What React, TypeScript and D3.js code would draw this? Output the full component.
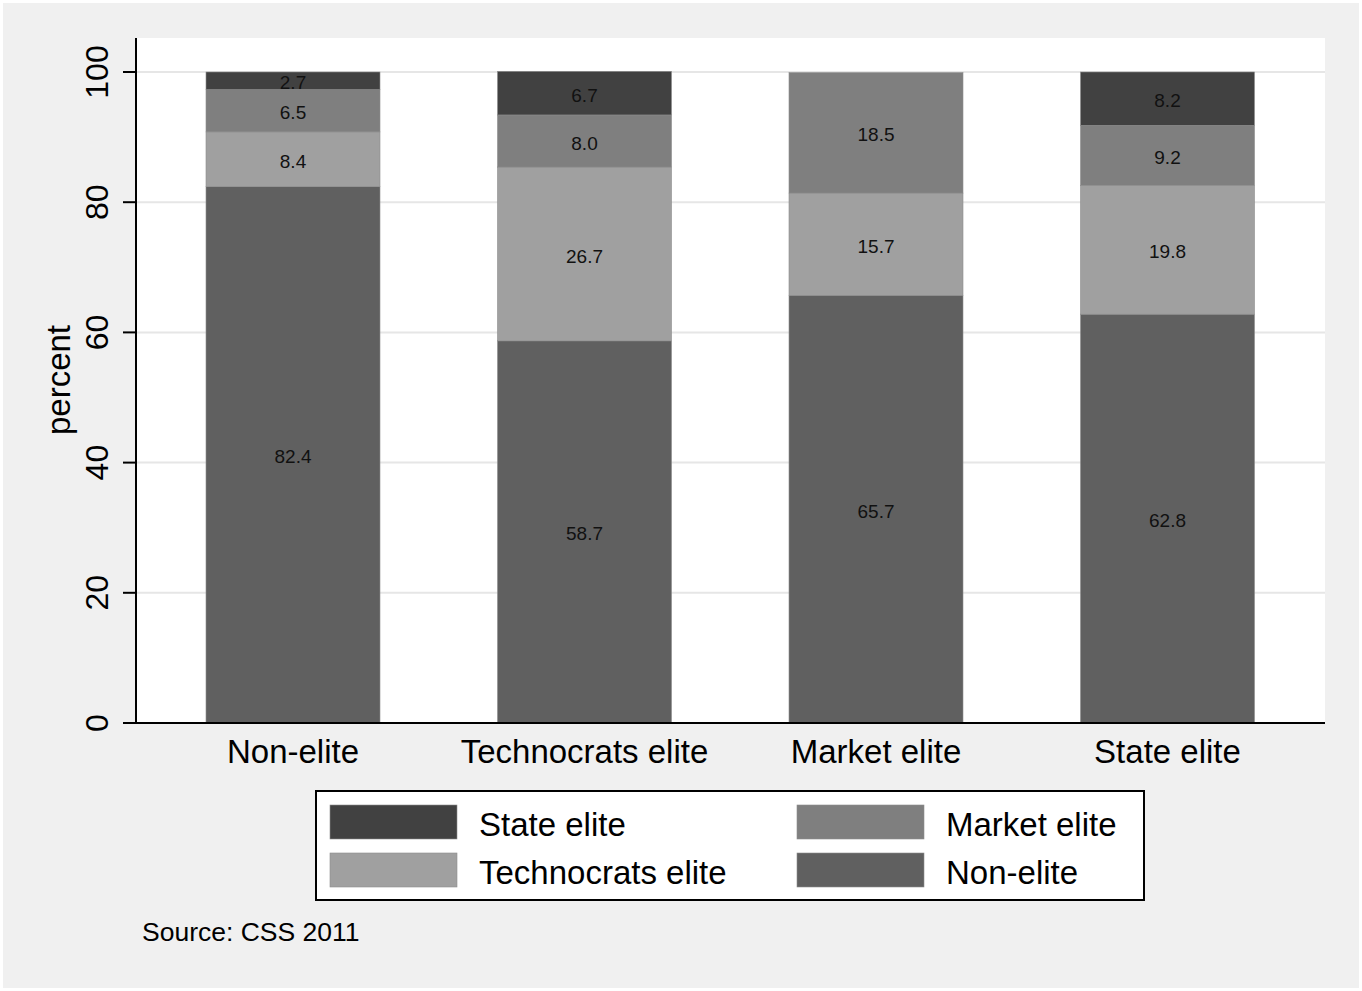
import React from "react";
import * as d3 from "d3";

const categories = ["Non-elite", "Technocrats elite", "Market elite", "State elite"];
// stacking order bottom -> top
const seriesNames = ["Non-elite", "Technocrats elite", "Market elite", "State elite"];
const nonElite = [82.4, 58.7, 65.7, 62.8];
const technocrats = [8.4, 26.7, 15.7, 19.8];
const market = [6.5, 8.0, 18.5, 9.2];
const state = [2.7, 6.7, 0, 8.2];
const seriesColors = ["#606060", "#a0a0a0", "#7f7f7f", "#414141"];
const yTicks = [0, 20, 40, 60, 80, 100];
const legendOrder = ["State elite", "Market elite", "Technocrats elite", "Non-elite"];

const W = 1362;
const H = 991;
const plot = { left: 136, right: 1325, top: 38, bottom: 723 };
const FONT = "Helvetica, Arial, 'Liberation Sans', sans-serif";

export default function App() {
  const rows = categories.map((c, i) => ({
    cat: c,
    "Non-elite": nonElite[i],
    "Technocrats elite": technocrats[i],
    "Market elite": market[i],
    "State elite": state[i],
  }));
  const stack = d3.stack<any>().keys(seriesNames);
  const stacked = stack(rows);

  const y = d3.scaleLinear().domain([0, 100]).range([723, 72]);
  const step = 291.5;
  const x = d3
    .scaleBand<string>()
    .domain(categories)
    .range([293 - step / 2, 293 - step / 2 + step * 4])
    .paddingInner(1 - 174 / step)
    .paddingOuter((1 - 174 / step) / 2);

  const color = d3.scaleOrdinal<string, string>().domain(seriesNames).range(seriesColors);

  return (
    <svg
      width={W}
      height={H}
      style={{ position: "absolute", left: 0, top: 0 }}
      fontFamily={FONT}
    >
      <rect x={0} y={0} width={W} height={H} fill="#ffffff" />
      <rect x={3} y={3} width={W - 6} height={H - 6} fill="#f0f0f0" />
      <rect
        x={plot.left}
        y={plot.top}
        width={plot.right - plot.left}
        height={plot.bottom - plot.top}
        fill="#ffffff"
      />
      {/* gridlines */}
      {yTicks
        .filter((t) => t > 0)
        .map((t) => (
          <line
            key={"g" + t}
            x1={plot.left}
            x2={plot.right}
            y1={y(t)}
            y2={y(t)}
            stroke="#e6e6e6"
            strokeWidth={2}
          />
        ))}
      {/* bars */}
      {stacked.map((s) => (
        <g key={s.key} fill={color(s.key)}>
          {s.map((d, i) => {
            const h = y(d[0]) - y(d[1]);
            if (h <= 0) return null;
            return (
              <rect
                key={i}
                x={x(categories[i])}
                y={y(d[1])}
                width={x.bandwidth()}
                height={h}
                stroke="#8c8c8c"
                strokeWidth={0.6}
              />
            );
          })}
        </g>
      ))}
      {/* value labels */}
      {stacked.map((s) =>
        s.map((d, i) => {
          const v = d[1] - d[0];
          if (v <= 0) return null;
          return (
            <text
              key={s.key + i}
              x={(x(categories[i]) as number) + x.bandwidth() / 2}
              y={y((d[0] + d[1]) / 2)}
              dy="0.45em"
              textAnchor="middle"
              fontSize={19}
              fill="#111"
            >
              {v.toFixed(1)}
            </text>
          );
        })
      )}
      {/* axes */}
      <line x1={plot.left} x2={plot.left} y1={plot.top} y2={plot.bottom} stroke="#000" strokeWidth={2} />
      <line x1={123} x2={plot.right} y1={plot.bottom} y2={plot.bottom} stroke="#000" strokeWidth={2} />
      {yTicks.map((t) => (
        <g key={"t" + t}>
          <line x1={123} x2={plot.left} y1={y(t)} y2={y(t)} stroke="#000" strokeWidth={2} />
          <text
            transform={`translate(108,${y(t)}) rotate(-90)`}
            textAnchor="middle"
            fontSize={32}
            fill="#000"
          >
            {t}
          </text>
        </g>
      ))}
      <text
        transform={`translate(70,380) rotate(-90)`}
        textAnchor="middle"
        fontSize={33}
        fill="#000"
      >
        percent
      </text>
      {categories.map((c) => (
        <text
          key={"c" + c}
          x={(x(c) as number) + x.bandwidth() / 2}
          y={763}
          textAnchor="middle"
          fontSize={33}
          fill="#000"
        >
          {c}
        </text>
      ))}
      {/* legend */}
      <rect x={316} y={791} width={828} height={109} fill="#ffffff" stroke="#000" strokeWidth={2} />
      {legendOrder.map((name, i) => {
        const col = i % 2;
        const row = Math.floor(i / 2);
        const sx = col === 0 ? 330 : 797;
        const sy = row === 0 ? 805 : 853;
        return (
          <g key={"l" + name}>
            <rect x={sx} y={sy} width={127} height={34} fill={color(name)} stroke="#8c8c8c" strokeWidth={0.6} />
            <text x={sx + 149} y={sy + 31} fontSize={33} fill="#000">
              {name}
            </text>
          </g>
        );
      })}
      <text x={142} y={941} fontSize={26.5} fill="#000">
        Source: CSS 2011
      </text>
    </svg>
  );
}
